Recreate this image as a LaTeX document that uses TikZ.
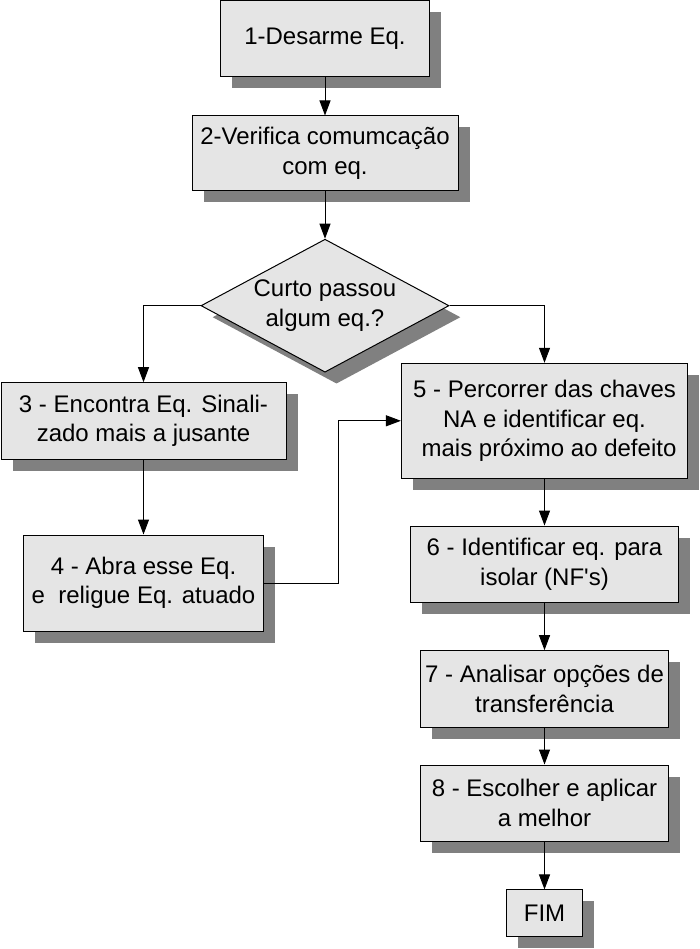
\documentclass[tikz,border=0pt]{standalone}
\usepackage{fontspec}
\setmainfont{Liberation Sans}
\usetikzlibrary{arrows.meta,shadows,shapes.geometric}
\definecolor{boxfill}{RGB}{229,229,229}
\definecolor{shadowgray}{RGB}{128,128,128}
\begin{document}
\begin{tikzpicture}[x=1pt,y=-1pt,
  every node/.style={font=\fontsize{24}{29.5}\selectfont},
  shadowed/.style={drop shadow={shadow xshift=11.5pt, shadow yshift=-11.5pt, fill=shadowgray, opacity=1}},
  stepbox/.style={draw=black, line width=1pt, fill=boxfill, rectangle, inner sep=0pt, align=center, shadowed},
  decision/.style={draw=black, line width=1pt, fill=boxfill, diamond, aspect=1.86, inner sep=0pt, align=center, shadowed},
  arr/.style={line width=1pt, -{Triangle[length=15pt,width=11pt]}}
]
\useasboundingbox (0,0) rectangle (700,949);

\node[stepbox, minimum width=209pt, minimum height=76pt] (b1) at (325,39) {1-Desarme Eq.};
\node[stepbox, minimum width=266pt, minimum height=75pt] (b2) at (325,153.5) {2-Verifica comumcação\\com eq.};
\node[decision, minimum width=248pt, minimum height=133pt] (d) at (325,305.7) {Curto passou\\algum eq.?};
\node[stepbox, minimum width=285pt, minimum height=76.6pt] (b3) at (143.5,421) {3 - Encontra Eq. Sinali-\\zado mais a jusante};
\node[stepbox, minimum width=239.7pt, minimum height=96pt] (b4) at (143.5,583) {4 - Abra esse Eq.\\e\ \ religue Eq. atuado};
\node[stepbox, minimum width=286.2pt, minimum height=115pt] (b5) at (544.5,420.8) {5 - Percorrer das chaves\\NA e identificar eq.\\\hspace*{9pt}mais próximo ao defeito};
\node[stepbox, minimum width=268pt, minimum height=76.3pt] (b6) at (544.5,564.2) {6 - Identificar eq. para\\isolar (NF\textquotesingle s)};
\node[stepbox, minimum width=247.6pt, minimum height=76.6pt] (b7) at (544.5,689) {7 - Analisar opções de\\transferência};
\node[stepbox, minimum width=247.6pt, minimum height=76pt] (b8) at (544.5,803) {8 - Escolher e aplicar\\a melhor};
\node[stepbox, minimum width=76pt, minimum height=46.7pt] (fim) at (544.5,913.3) {FIM};

\coordinate (k) at (338,583);

\draw[arr] (b1.south) -- (b2.north);
\draw[arr] (b2.south) -- (d.north);
\draw[arr] (d.west) -| (b3.north);
\draw[arr] (d.east) -| (b5.north);
\draw[arr] (b3.south) -- (b4.north);
\draw[arr] (b4.east) -- (k) |- (b5.west);
\draw[arr] (b5.south) -- (b6.north);
\draw[arr] (b6.south) -- (b7.north);
\draw[arr] (b7.south) -- (b8.north);
\draw[arr] (b8.south) -- (fim.north);
\end{tikzpicture}
\end{document}
